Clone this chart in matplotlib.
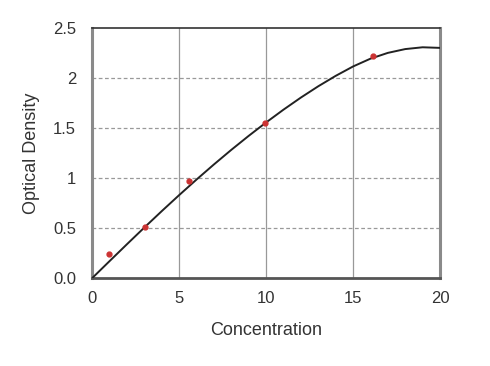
import numpy as np
import matplotlib.pyplot as plt

plt.rcParams['font.family'] = ['Liberation Sans', 'DejaVu Sans']

# measured standards
conc = [0.98, 3.04, 5.59, 9.91, 16.15]
od = [0.244, 0.51, 0.97, 1.55, 2.22]

# fitted curve
curve_x = [0, 1, 2, 3, 4, 5, 6, 7, 8, 9, 10, 11, 12, 13, 14, 15, 16, 17, 18, 19, 20]
curve_y = [0, 0.170, 0.339, 0.506, 0.670, 0.830, 0.986, 1.137, 1.283, 1.423, 1.557,
           1.685, 1.806, 1.919, 2.023, 2.117, 2.195, 2.253, 2.291, 2.309, 2.303]

xticks = [0, 5, 10, 15, 20]
yticks = [0.0, 0.5, 1.0, 1.5, 2.0, 2.5]
ylabels = ["0.0", "0.5", "1", "1.5", "2", "2.5"]

fig = plt.figure(figsize=(4.9, 3.66), dpi=100)
ax = fig.add_axes([0.188, 0.240, 0.710, 0.683])

# grid: solid vertical, dashed horizontal
for x in xticks[1:-1]:
    ax.axvline(x, color="#999999", lw=0.9, zorder=1)
for y in yticks[1:-1]:
    ax.axhline(y, color="#999999", lw=0.9, ls=(0, (3, 2)), zorder=1)

ax.plot(curve_x, curve_y, color="#222222", lw=1.4, zorder=3)
ax.plot(conc, od, 'o', color="#cc3333", markersize=3.5, zorder=4)

ax.set_xlim(0, 20)
ax.set_ylim(0, 2.5)
ax.set_xticks(xticks)
ax.set_yticks(yticks)
ax.set_yticklabels(ylabels)
ax.tick_params(length=0, labelsize=12, colors="#333333")
ax.tick_params(axis="x", pad=9.5)
ax.tick_params(axis="y", pad=11.5)

for side in ["left", "right"]:
    ax.spines[side].set_color("#8a8a8a")
    ax.spines[side].set_linewidth(2.2)
ax.spines["bottom"].set_color("#555555")
ax.spines["bottom"].set_linewidth(2)
ax.spines["top"].set_color("#333333")
ax.spines["top"].set_linewidth(1.2)

ax.set_xlabel("Concentration", fontsize=13, labelpad=11, color="#333333")
ax.set_ylabel("Optical Density", fontsize=13, labelpad=9.5, color="#333333")

plt.savefig("out.png", dpi=100)
